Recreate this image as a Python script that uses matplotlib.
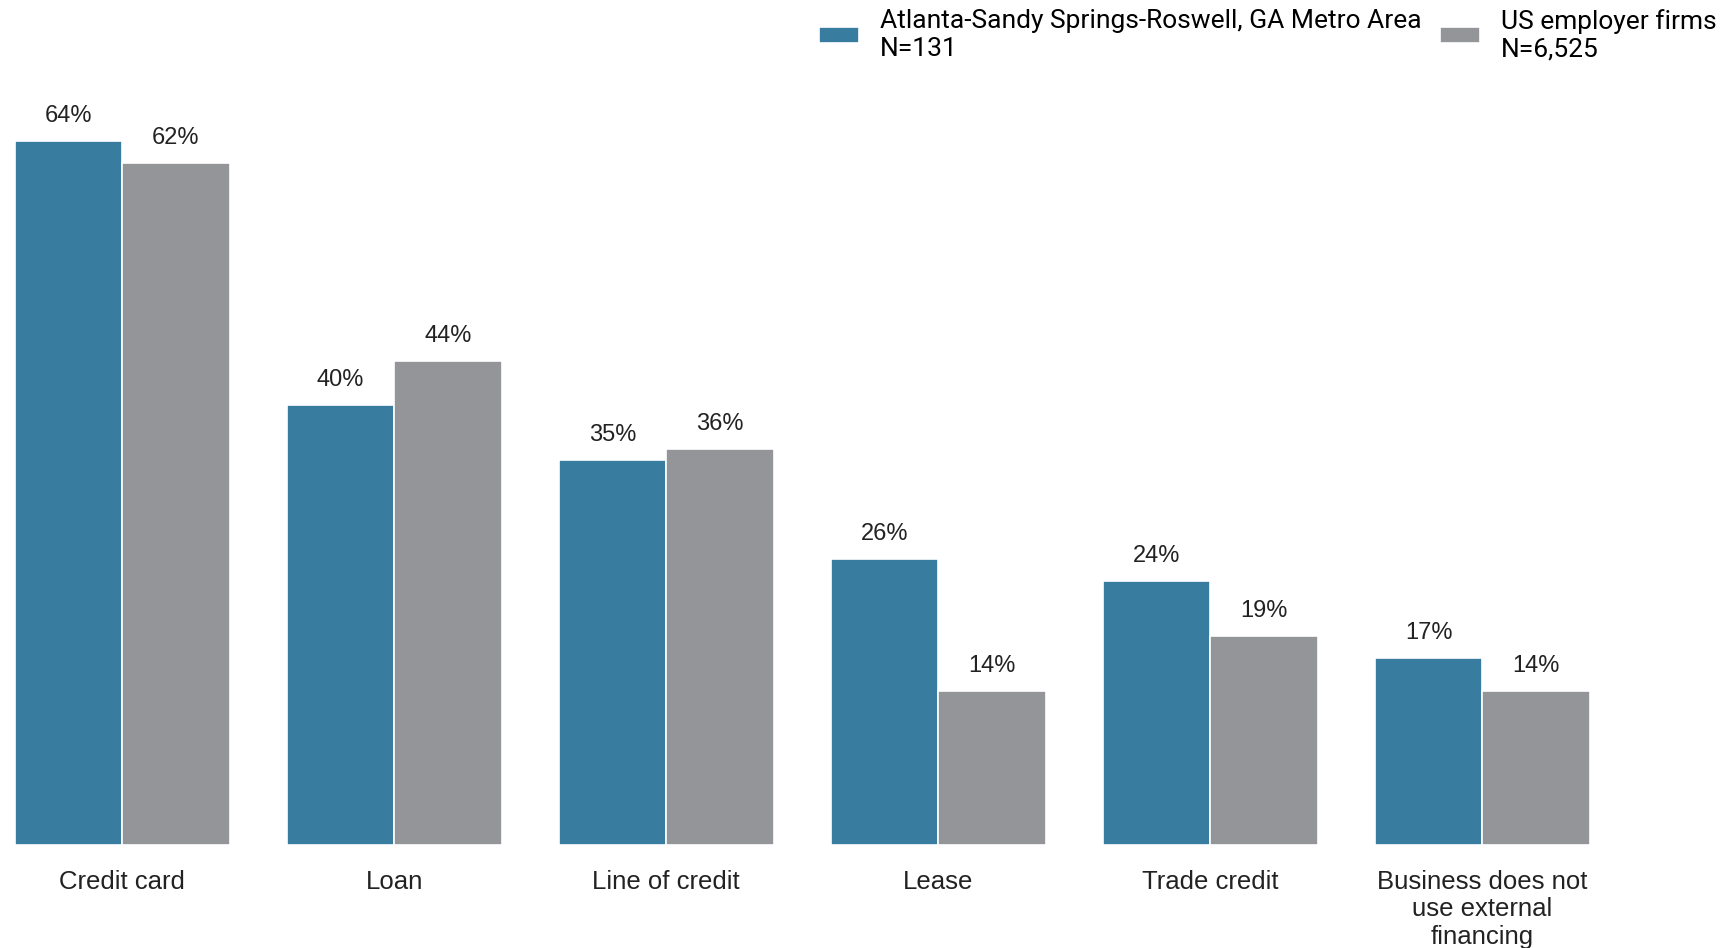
import numpy as np
import matplotlib
matplotlib.use('Agg')
import matplotlib.pyplot as plt

plt.rcParams['font.family'] = ['Roboto', 'DejaVu Sans']

# 数据
categories = ['Credit card', 'Loan', 'Line of credit', 'Lease', 'Trade credit',
              'Business does not\nuse external\nfinancing']
atlanta = [64, 40, 35, 26, 24, 17]
us_firms = [62, 44, 36, 14, 19, 14]
series_names = ['Atlanta-Sandy Springs-Roswell, GA Metro Area\nN=131',
                'US employer firms\nN=6,525']

blue = '#387d9f'
gray = '#939598'
text_font = ['Liberation Sans', 'DejaVu Sans']

fig = plt.figure(figsize=(17.27, 9.48), dpi=100)
ax = fig.add_axes([0, 0.109, 1, 0.8117])

x = np.arange(len(categories))
w = 0.395
b1 = ax.bar(x - w / 2, atlanta, w, color=blue, edgecolor='white', linewidth=1.2, label=series_names[0])
b2 = ax.bar(x + w / 2, us_firms, w, color=gray, edgecolor='white', linewidth=1.2, label=series_names[1])

# 数值标签
for bars, vals in [(b1, atlanta), (b2, us_firms)]:
    for r, v in zip(bars, vals):
        ax.annotate(f'{v}%', (r.get_x() + r.get_width() / 2, r.get_height()),
                    xytext=(0, 10), textcoords='offset points',
                    ha='center', va='bottom', fontsize=17, color='#222222',
                    family=text_font)

ax.set_xlim(-0.449, 5.899)
ax.set_ylim(0, 70)
ax.set_xticks(x)
ax.set_xticklabels(categories, fontsize=18.5, color='#222222', linespacing=1.2,
                   family=text_font)
ax.tick_params(axis='x', length=0, pad=18)
ax.set_yticks([])
for s in ax.spines.values():
    s.set_visible(False)

leg = fig.legend(loc='upper right', bbox_to_anchor=(1.0, 1.002), ncol=2, frameon=False,
                 fontsize=19, handlelength=1.5, handleheight=0.55, handletextpad=0.8,
                 columnspacing=0.7, labelspacing=0.2, borderpad=0.2, borderaxespad=0.2)
for t in leg.get_texts():
    t.set_linespacing(1.2)

fig.savefig('out.png', dpi=100)
